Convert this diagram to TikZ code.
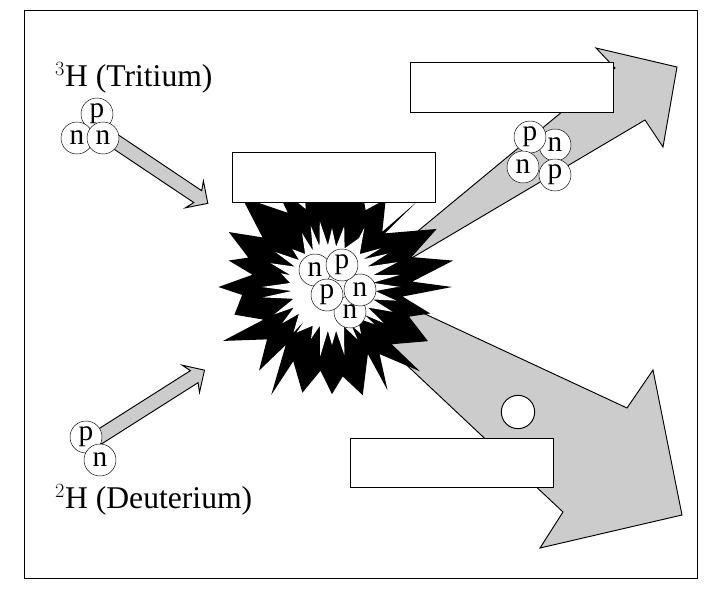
\documentclass[tikz,border=0pt]{standalone}
\usepackage{fontspec}
\setmainfont{Liberation Serif}
\usetikzlibrary{shapes.arrows}

\tikzset{
  nucleon/.style={draw, circle, fill=white, inner sep=0pt, minimum size=0.96cm, font=\fontsize{25}{25}\selectfont},
  label box/.style={draw, thick, fill=white, inner sep=0pt},
  small arrow/.style={single arrow, draw, thick, fill=gray!40, inner xsep=0pt, inner ysep=0.2cm, minimum width=0.95cm, single arrow head extend=0.27cm, single arrow head indent=0.12cm},
  big arrow/.style={draw, thick, fill=gray!40, line join=miter},
  isotope/.style={font=\fontsize{27}{27}\selectfont, inner sep=0pt}
}

\begin{document}
\begin{tikzpicture}[x=0.03cm, y=-0.03cm]
  \useasboundingbox (0,0) rectangle (718,602);

  % Frame
  \draw[thick] (24,10) rectangle (697,578);

  % Labels
  \node[isotope, anchor=base west] (tlabel) at (55,86) {$^{3}$H (Tritium)};
  \node[isotope, anchor=base west] (dlabel) at (55,508) {$^{2}$H (Deuterium)};

  % Incoming arrows
  \node[small arrow, minimum height=3.6cm, rotate=-33.8] (tarrow) at (155,168) {};
  \node[small arrow, minimum height=3.8cm, rotate=32.4] (darrow) at (148,406) {};

  % Outgoing arrows
  \draw[big arrow] (395,250) -- (615,68) -- (596,48) -- (677,67) -- (663,147) -- (645,120) -- (405,262) -- cycle;
  \draw[big arrow] (395,300) -- (627,408) -- (653,370) -- (682,515) -- (540,548) -- (563,512) -- (380,340) -- cycle;
  \node[draw, thick, circle, fill=white, minimum size=1cm, inner sep=0pt] (neutron) at (518,412) {};

  % Explosion
  \begin{scope}[shift={(332,287)}]
    \pgfmathsetseed{5}
    \fill[black] (0:120) \foreach \k in {0,...,23}{ -- ({\k*15+4+7*rnd}:{70+22*rnd}) -- ({\k*15+15}:{100+28*rnd}) } -- cycle;
    \fill[white] (0:65) \foreach \k in {0,...,31}{ -- ({\k*11.25+5.6}:{40+4*rnd}) -- ({\k*11.25+11.25}:{52+20*rnd}) } -- cycle;
  \end{scope}

  % Boxes
  \node[label box, minimum width=6.09cm, minimum height=1.5cm] (boxtop) at (511.5,87) {};
  \node[label box, minimum width=6.09cm, minimum height=1.5cm] (boxmid) at (333.5,177) {};
  \node[label box, minimum width=6.09cm, minimum height=1.47cm] (boxlow) at (451.5,462.5) {};

  % Tritium
  \node[nucleon] (t1) at (97,114) {p};
  \node[nucleon] (t2) at (77,138) {n};
  \node[nucleon] (t3) at (103,138) {n};

  % Deuterium
  \node[nucleon] (d1) at (86,437) {p};
  \node[nucleon] (d2) at (100,460) {n};

  % Fused nucleus
  \node[nucleon] (c5) at (350,312) {n};
  \node[nucleon] (c4) at (360,290) {n};
  \node[nucleon] (c1) at (315,270) {n};
  \node[nucleon] (c3) at (327,295) {p};
  \node[nucleon] (c2) at (342,265) {p};

  % Helium
  \node[nucleon] (h2) at (555,145) {n};
  \node[nucleon] (h1) at (530,137) {p};
  \node[nucleon] (h3) at (523,167) {n};
  \node[nucleon] (h4) at (555,175) {p};
\end{tikzpicture}
\end{document}
